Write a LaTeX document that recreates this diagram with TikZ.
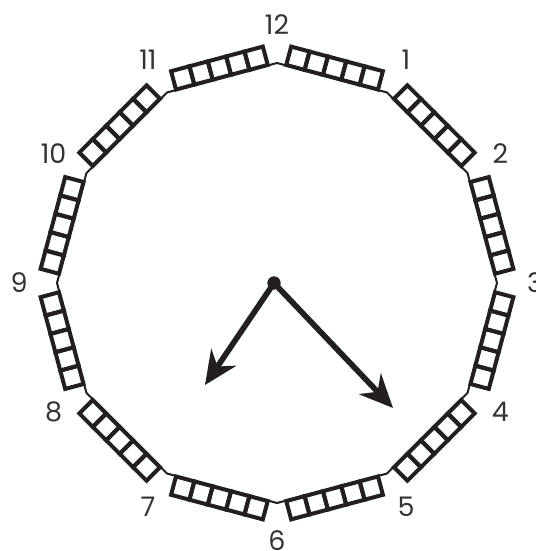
\documentclass[tikz,border=0pt]{standalone}
\usepackage{fontspec}
\setmainfont{Poppins}
\usetikzlibrary{arrows.meta}
\definecolor{clockink}{HTML}{231F20}
\definecolor{clocknum}{HTML}{333333}

\begin{document}
\begin{tikzpicture}[
  x=0.03cm, y=0.03cm,
  rim/.style={draw=clockink, line width=0.06cm},
  tickbox/.style={draw=clockink, line width=0.12cm},
  hournum/.style={text=clocknum, font=\fontsize{23}{23}\selectfont, inner sep=0pt},
  hand/.style={clockink, line width=0.17cm, -{Stealth[length=1cm, width=0.9cm, inset=0.33cm]}},
]
  \useasboundingbox (-277,-268) rectangle (259,283);
  % dial outline
  \draw[rim] (90:220) \foreach \k in {1,...,11} { -- (90-30*\k:220) } -- cycle;
  % minute boxes, five per side
  \foreach \k in {0,...,11} {
    \begin{scope}[rotate=-15-30*\k]
      \foreach \i in {0,...,4}
        \draw[tickbox] (-47.5+19*\i,213) rectangle ++(19,19);
    \end{scope}
  }
  % hour numbers
  \foreach \k in {1,...,12}
    \node[hournum] (h\k) at (90-30*\k:258) {\k};
  % hands
  \coordinate (c) at (-3,0);
  \coordinate (hourtip) at (-72,-102);
  \coordinate (mintip) at (116,-125);
  \draw[hand] (c) -- (hourtip);
  \draw[hand] (c) -- (mintip);
  \fill[clockink] (c) circle (0.2cm);
\end{tikzpicture}
\end{document}
